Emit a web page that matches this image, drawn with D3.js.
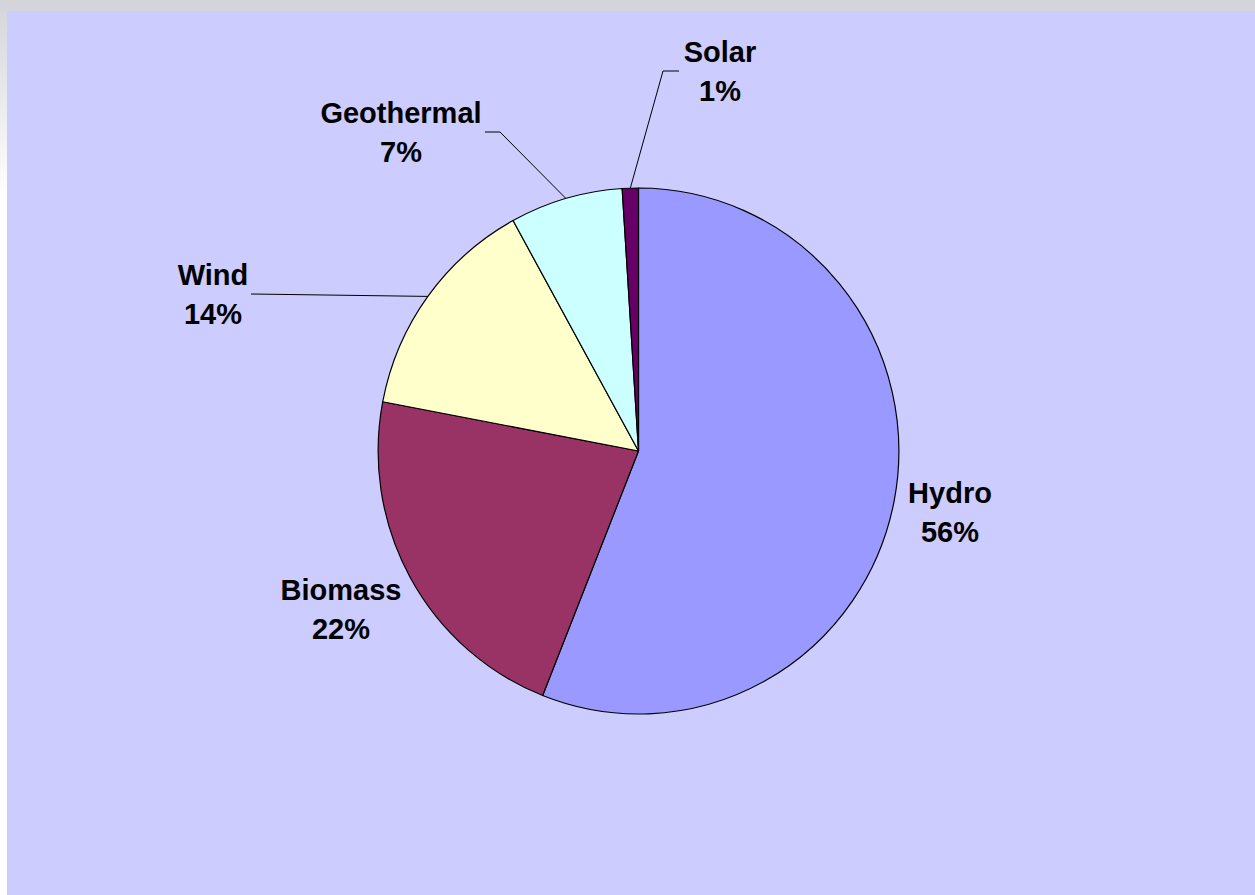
<!DOCTYPE html>
<html>
<head>
<meta charset="utf-8">
<script src="https://cdn.jsdelivr.net/npm/d3@7"></script>
<style>
  html, body { margin: 0; padding: 0; background: #fff; }
  svg { display: block; }
</style>
</head>
<body>
<div id="chart"></div>
<script>
// data
const categories = ['Hydro', 'Biomass', 'Wind', 'Geothermal', 'Solar'];
const shares = [56, 22, 14, 7, 1];
const pctLabels = ['56%', '22%', '14%', '7%', '1%'];
const colours = ['#9999ff', '#993366', '#ffffcc', '#ccffff', '#660066'];

// label layout (moved labels, like the original)
const labelPos = [[950, 503], [341, 600], [213, 285], [401, 123], [720, 62]];
// leader lines: null = no leader, else list of points after the slice edge
const leaders = [null, null, [[251, 294]], [[500, 132], [485, 132]], [[663, 71], [679, 71]]];

const width = 1255;
const height = 895;
const cx = 638.5, cy = 451, radius = 263;
const squeeze = 0.99; // pie is a touch narrower than tall

const svg = d3.select('#chart')
    .append('svg')
        .attr('width', width)
        .attr('height', height);

const defs = svg.append('defs');
const grad = defs.append('linearGradient')
    .attr('id', 'edge')
    .attr('x1', 0).attr('y1', 0).attr('x2', 0).attr('y2', 1);
grad.append('stop').attr('offset', '0%').attr('stop-color', '#d4d5da');
grad.append('stop').attr('offset', '22%').attr('stop-color', '#ffffff');
grad.append('stop').attr('offset', '100%').attr('stop-color', '#ffffff');

// page frame
svg.append('rect')
    .attr('width', width).attr('height', height)
    .attr('fill', 'url(#edge)');
svg.append('rect')
    .attr('width', width).attr('height', 11)
    .attr('fill', '#d4d5da');

// chart area
svg.append('rect')
    .attr('x', 7).attr('y', 11)
    .attr('width', width - 7).attr('height', height - 11)
    .attr('fill', '#ccccff');

const pie = d3.pie().sort(null).value(d => d);
const arcs = pie(shares);
const arc = d3.arc().innerRadius(0).outerRadius(radius);

const g = svg.append('g')
    .attr('transform', `translate(${cx}, ${cy}) scale(${squeeze}, 1)`);

g.selectAll('path')
    .data(arcs)
    .enter()
        .append('path')
            .attr('d', arc)
            .attr('fill', (d, i) => colours[i])
            .attr('stroke', '#000')
            .attr('stroke-width', 1.2)
            .attr('stroke-linejoin', 'round');

// leader lines from the slice edge to the label
arcs.forEach((d, i) => {
    if (!leaders[i]) return;
    const mid = (d.startAngle + d.endAngle) / 2;
    const start = [cx + squeeze * radius * Math.sin(mid), cy - radius * Math.cos(mid)];
    const pts = [start].concat(leaders[i]);
    svg.append('path')
        .attr('d', d3.line()(pts))
        .attr('fill', 'none')
        .attr('stroke', '#000')
        .attr('stroke-width', 1);
});

// labels
const labels = svg.append('g')
    .attr('font-family', 'Liberation Sans, Arial, sans-serif')
    .attr('font-weight', 'bold')
    .attr('font-size', 29)
    .attr('text-anchor', 'middle')
    .attr('fill', '#000');

categories.forEach((name, i) => {
    const t = labels.append('text')
        .attr('x', labelPos[i][0])
        .attr('y', labelPos[i][1]);
    t.append('tspan')
        .attr('x', labelPos[i][0])
        .text(name);
    t.append('tspan')
        .attr('x', labelPos[i][0])
        .attr('dy', 39)
        .text(pctLabels[i]);
});
</script>
</body>
</html>
